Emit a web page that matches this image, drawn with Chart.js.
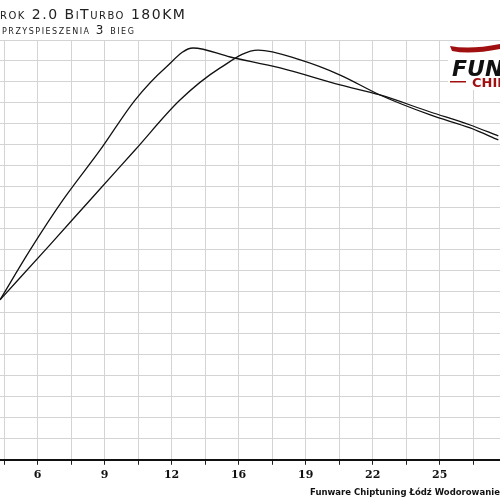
<!DOCTYPE html>
<html>
<head>
<script src="https://cdn.jsdelivr.net/npm/chart.js"></script>
<style>body{margin:0;background:#fff}#wrap{width:500px;height:500px}</style>
</head>
<body>
<div id="wrap"><canvas id="c"></canvas></div>
<script>
// x in grid steps (one vertical gridline per step), y in grid rows
const tickLabels = ["", "6", "", "9", "", "12", "", "16", "", "19", "", "22", "", "25", ""];
const curveAx = [-0.12, 0.78, 1.76, 2.87, 3.91, 4.81, 5.64, 6.75, 8.24, 10.03, 11.22, 12.72, 13.91, 14.75];
const curveAy = [7.62, 10.0, 12.38, 14.76, 17.14, 18.67, 19.62, 19.19, 18.67, 17.86, 17.38, 16.57, 15.95, 15.43];
const curveBx = [-0.12, 1.37, 2.57, 3.91, 5.25, 6.45, 7.58, 8.84, 10.03, 11.22, 12.72, 13.91, 14.75];
const curveBy = [7.62, 10.24, 12.38, 14.76, 17.14, 18.67, 19.52, 19.05, 18.33, 17.38, 16.43, 15.81, 15.24];

const toPts = (xs, ys) => xs.map((x, i) => ({x: x, y: ys[i]}));

const overlay = {
  id: "overlay",
  afterDraw(chart) {
    const c = chart.ctx;
    c.save();
    c.fillStyle = "#222";
    c.font = "small-caps 14px 'DejaVu Sans'";
    c.letterSpacing = "1.5px";
    c.fillText("rok 2.0 BiTurbo 180KM", 0, 19);
    c.font = "small-caps 12px 'DejaVu Sans'";
    c.fillText("przyspieszenia 3 bieg", 2, 34);
    c.letterSpacing = "0px";
    c.font = "bold 8.5px 'DejaVu Sans'";
    c.fillStyle = "#111";
    c.fillText("Funware Chiptuning Łódź Wodorowanie Te", 310, 495);
    // logo
    c.fillStyle = "#fff";
    c.fillRect(448, 42, 52, 48);
    c.fillStyle = "#a01010";
    c.beginPath();
    c.moveTo(450, 46); c.quadraticCurveTo(470, 50, 500, 44); c.lineTo(500, 49); c.quadraticCurveTo(470, 55, 452, 51); c.fill();
    c.font = "italic bold 22px 'DejaVu Sans'";
    c.fillStyle = "#111";
    c.fillText("FUN", 452, 76);
    c.fillStyle = "#a01010";
    c.fillRect(450, 81, 16, 1.5);
    c.font = "bold 13px 'DejaVu Sans'";
    c.fillText("CHIP", 472, 87);
    c.restore();
  }
};

new Chart(document.getElementById("c"), {
  type: "scatter",
  data: {
    datasets: [
      {data: toPts(curveAx, curveAy), showLine: true, borderColor: "#111", borderWidth: 1.3, pointRadius: 0, cubicInterpolationMode: "monotone"},
      {data: toPts(curveBx, curveBy), showLine: true, borderColor: "#111", borderWidth: 1.3, pointRadius: 0, cubicInterpolationMode: "monotone"}
    ]
  },
  options: {
    responsive: true,
    maintainAspectRatio: false,
    animation: false,
    layout: {padding: {top: 40, left: 0, right: 0, bottom: 14}},
    plugins: {legend: {display: false}, tooltip: {enabled: false}},
    scales: {
      x: {
        type: "linear", min: -0.12, max: 14.8,
        afterBuildTicks: ax => { ax.ticks = tickLabels.map((_, i) => ({value: i})); },
        ticks: {
          autoSkip: false, maxRotation: 0, padding: 4,
          callback: (v, i) => tickLabels[i],
          color: "#111", font: {family: "'DejaVu Serif'", weight: "bold", size: 11}
        },
        grid: {color: "#d4d4d4", tickColor: "#222", tickLength: 5},
        border: {color: "#111", width: 2}
      },
      y: {
        min: 0, max: 20,
        ticks: {display: false, stepSize: 1},
        grid: {color: "#d4d4d4", drawTicks: false},
        border: {display: false}
      }
    }
  },
  plugins: [overlay]
});
</script>
</body>
</html>
